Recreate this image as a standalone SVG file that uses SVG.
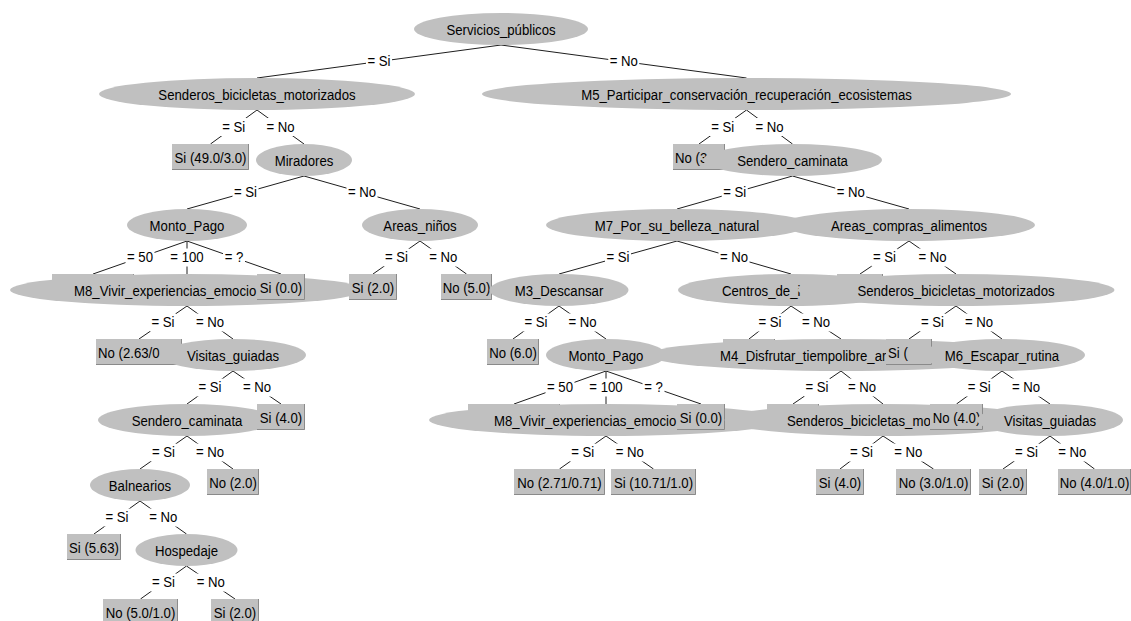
<svg xmlns="http://www.w3.org/2000/svg" width="1131" height="621" viewBox="0 0 1131 621">
<style>
.e{fill:#c0c0c0}
.r{fill:#c0c0c0}
.bd{fill:none;stroke:#8a8a8a;stroke-width:1}
.t{font-family:"Liberation Sans",Arial,sans-serif;font-size:14.5px;fill:#000;text-anchor:middle;transform-box:fill-box;transform-origin:center;transform:scaleX(.91)}
.ts{text-anchor:start;transform-origin:left center}
#links line{stroke:#1e1e1e;stroke-width:1}
#links rect{fill:#fff}
</style>
<rect width="1131" height="621" fill="#fff"/>
<g id="links">
<line x1="501" y1="45" x2="257" y2="78"/><line x1="501" y1="45" x2="746.5" y2="78"/>
<line x1="257" y1="110" x2="210.5" y2="144"/><line x1="257" y1="110" x2="304" y2="144"/>
<line x1="746.5" y1="110" x2="699" y2="144"/><line x1="746.5" y1="110" x2="792.5" y2="144"/>
<line x1="304" y1="176" x2="187" y2="209"/><line x1="304" y1="176" x2="420" y2="209"/>
<line x1="792.5" y1="176" x2="677" y2="209"/><line x1="792.5" y1="176" x2="909" y2="209"/>
<line x1="187" y1="241" x2="93" y2="274"/><line x1="187" y1="241" x2="187" y2="274"/><line x1="187" y1="241" x2="281" y2="274"/>
<line x1="420" y1="241" x2="373" y2="274"/><line x1="420" y1="241" x2="466.5" y2="274"/>
<line x1="677" y1="241" x2="559" y2="274"/><line x1="677" y1="241" x2="791" y2="274"/>
<line x1="909" y1="241" x2="860" y2="274"/><line x1="909" y1="241" x2="956" y2="274"/>
<line x1="187" y1="306" x2="139" y2="339"/><line x1="187" y1="306" x2="233" y2="339"/>
<line x1="559" y1="306" x2="513" y2="339"/><line x1="559" y1="306" x2="606" y2="339"/>
<line x1="791" y1="306" x2="749" y2="339"/><line x1="791" y1="306" x2="841" y2="339"/>
<line x1="956" y1="306" x2="909" y2="339"/><line x1="956" y1="306" x2="1002" y2="339"/>
<line x1="233" y1="371" x2="187" y2="404"/><line x1="233" y1="371" x2="281" y2="404"/>
<line x1="606" y1="371" x2="514" y2="404"/><line x1="606" y1="371" x2="606" y2="404"/><line x1="606" y1="371" x2="701" y2="404"/>
<line x1="841" y1="371" x2="793" y2="404"/><line x1="841" y1="371" x2="883" y2="404"/>
<line x1="1002" y1="371" x2="956.5" y2="404"/><line x1="1002" y1="371" x2="1050" y2="404"/>
<line x1="187" y1="436" x2="140" y2="469"/><line x1="187" y1="436" x2="233" y2="469"/>
<line x1="606" y1="436" x2="559.5" y2="469"/><line x1="606" y1="436" x2="653.5" y2="469"/>
<line x1="883" y1="436" x2="840" y2="469"/><line x1="883" y1="436" x2="933.5" y2="469"/>
<line x1="1050" y1="436" x2="1003" y2="469"/><line x1="1050" y1="436" x2="1094.5" y2="469"/>
<line x1="140" y1="501" x2="94" y2="534"/><line x1="140" y1="501" x2="186.5" y2="534"/>
<line x1="186.5" y1="566" x2="140.5" y2="599"/><line x1="186.5" y1="566" x2="235" y2="599"/>
<rect x="366" y="52.5" width="26" height="18"/><text class="t" x="379" y="66.5">= Si</text>
<rect x="608.25" y="52.5" width="31" height="18"/><text class="t" x="623.75" y="66.5">= No</text>
<rect x="220.75" y="118" width="26" height="18"/><text class="t" x="233.75" y="132">= Si</text>
<rect x="265" y="118" width="31" height="18"/><text class="t" x="280.5" y="132">= No</text>
<rect x="709.75" y="118" width="26" height="18"/><text class="t" x="722.75" y="132">= Si</text>
<rect x="754" y="118" width="31" height="18"/><text class="t" x="769.5" y="132">= No</text>
<rect x="232.5" y="183.5" width="26" height="18"/><text class="t" x="245.5" y="197.5">= Si</text>
<rect x="346.5" y="183.5" width="31" height="18"/><text class="t" x="362" y="197.5">= No</text>
<rect x="721.75" y="183.5" width="26" height="18"/><text class="t" x="734.75" y="197.5">= Si</text>
<rect x="835.25" y="183.5" width="31" height="18"/><text class="t" x="850.75" y="197.5">= No</text>
<rect x="125.5" y="248.5" width="29" height="18"/><text class="t" x="140" y="262.5">= 50</text>
<rect x="169" y="248.5" width="36" height="18"/><text class="t" x="187" y="262.5">= 100</text>
<rect x="223" y="248.5" width="22" height="18"/><text class="t" x="234" y="262.5">= ?</text>
<rect x="383.5" y="248.5" width="26" height="18"/><text class="t" x="396.5" y="262.5">= Si</text>
<rect x="427.75" y="248.5" width="31" height="18"/><text class="t" x="443.25" y="262.5">= No</text>
<rect x="605" y="248.5" width="26" height="18"/><text class="t" x="618" y="262.5">= Si</text>
<rect x="718.5" y="248.5" width="31" height="18"/><text class="t" x="734" y="262.5">= No</text>
<rect x="871.5" y="248.5" width="26" height="18"/><text class="t" x="884.5" y="262.5">= Si</text>
<rect x="917" y="248.5" width="31" height="18"/><text class="t" x="932.5" y="262.5">= No</text>
<rect x="150" y="313.5" width="26" height="18"/><text class="t" x="163" y="327.5">= Si</text>
<rect x="194.5" y="313.5" width="31" height="18"/><text class="t" x="210" y="327.5">= No</text>
<rect x="523" y="313.5" width="26" height="18"/><text class="t" x="536" y="327.5">= Si</text>
<rect x="567" y="313.5" width="31" height="18"/><text class="t" x="582.5" y="327.5">= No</text>
<rect x="757" y="313.5" width="26" height="18"/><text class="t" x="770" y="327.5">= Si</text>
<rect x="800.5" y="313.5" width="31" height="18"/><text class="t" x="816" y="327.5">= No</text>
<rect x="919.5" y="313.5" width="26" height="18"/><text class="t" x="932.5" y="327.5">= Si</text>
<rect x="963.5" y="313.5" width="31" height="18"/><text class="t" x="979" y="327.5">= No</text>
<rect x="197" y="378.5" width="26" height="18"/><text class="t" x="210" y="392.5">= Si</text>
<rect x="241.5" y="378.5" width="31" height="18"/><text class="t" x="257" y="392.5">= No</text>
<rect x="545.5" y="378.5" width="29" height="18"/><text class="t" x="560" y="392.5">= 50</text>
<rect x="588" y="378.5" width="36" height="18"/><text class="t" x="606" y="392.5">= 100</text>
<rect x="642.5" y="378.5" width="22" height="18"/><text class="t" x="653.5" y="392.5">= ?</text>
<rect x="804" y="378.5" width="26" height="18"/><text class="t" x="817" y="392.5">= Si</text>
<rect x="846.5" y="378.5" width="31" height="18"/><text class="t" x="862" y="392.5">= No</text>
<rect x="966.25" y="378.5" width="26" height="18"/><text class="t" x="979.25" y="392.5">= Si</text>
<rect x="1010.5" y="378.5" width="31" height="18"/><text class="t" x="1026" y="392.5">= No</text>
<rect x="150.5" y="443.5" width="26" height="18"/><text class="t" x="163.5" y="457.5">= Si</text>
<rect x="194.5" y="443.5" width="31" height="18"/><text class="t" x="210" y="457.5">= No</text>
<rect x="569.75" y="443.5" width="26" height="18"/><text class="t" x="582.75" y="457.5">= Si</text>
<rect x="614.25" y="443.5" width="31" height="18"/><text class="t" x="629.75" y="457.5">= No</text>
<rect x="848.5" y="443.5" width="26" height="18"/><text class="t" x="861.5" y="457.5">= Si</text>
<rect x="892.75" y="443.5" width="31" height="18"/><text class="t" x="908.25" y="457.5">= No</text>
<rect x="1013.5" y="443.5" width="26" height="18"/><text class="t" x="1026.5" y="457.5">= Si</text>
<rect x="1056.75" y="443.5" width="31" height="18"/><text class="t" x="1072.25" y="457.5">= No</text>
<rect x="104" y="508.5" width="26" height="18"/><text class="t" x="117" y="522.5">= Si</text>
<rect x="147.75" y="508.5" width="31" height="18"/><text class="t" x="163.25" y="522.5">= No</text>
<rect x="150.5" y="573.5" width="26" height="18"/><text class="t" x="163.5" y="587.5">= Si</text>
<rect x="195.25" y="573.5" width="31" height="18"/><text class="t" x="210.75" y="587.5">= No</text>
</g>
<g id="n0"><ellipse class="e" cx="501" cy="29" rx="87" ry="16"/><text class="t" x="501" y="35">Servicios_públicos</text></g>
<g id="n1"><ellipse class="e" cx="257" cy="94" rx="158" ry="16"/><text class="t" x="257" y="100">Senderos_bicicletas_motorizados</text></g>
<g id="n2"><ellipse class="e" cx="746.5" cy="94" rx="264.5" ry="16"/><text class="t" x="746.5" y="100">M5_Participar_conservación_recuperación_ecosistemas</text></g>
<g id="n3"><rect class="r" x="172" y="144" width="77" height="26"/><path class="bd" d="M172 169.5H248.5V144"/><text class="t" x="210.5" y="163.5">Si (49.0/3.0)</text></g>
<g id="n4"><ellipse class="e" cx="304" cy="160" rx="48" ry="16"/><text class="t" x="304" y="166">Miradores</text></g>
<g id="n5"><rect class="r" x="673" y="144" width="52" height="26"/><path class="bd" d="M673 169.5H724.5V144"/><text class="t ts" x="675" y="163.5">No (3</text></g>
<g id="n6"><ellipse class="e" cx="792.5" cy="160" rx="89.5" ry="16"/><text class="t" x="792.5" y="166">Sendero_caminata</text></g>
<g id="n7"><ellipse class="e" cx="187" cy="225" rx="60" ry="16"/><text class="t" x="187" y="231">Monto_Pago</text></g>
<g id="n8"><ellipse class="e" cx="420" cy="225" rx="58" ry="16"/><text class="t" x="420" y="231">Areas_niños</text></g>
<g id="n9"><ellipse class="e" cx="677" cy="225" rx="131" ry="16"/><text class="t" x="677" y="231">M7_Por_su_belleza_natural</text></g>
<g id="n10"><ellipse class="e" cx="909" cy="225" rx="126" ry="16"/><text class="t" x="909" y="231">Areas_compras_alimentos</text></g>
<g id="n11"><rect class="r" x="52" y="274" width="82" height="26"/><path class="bd" d="M52 299.5H133.5V274"/></g>
<g id="n12"><ellipse class="e" cx="187" cy="290" rx="177" ry="16"/><text class="t ts" x="74" y="296">M8_Vivir_experiencias_emocio</text></g>
<g id="n13"><rect class="r" x="257" y="274" width="48" height="26"/><path class="bd" d="M257 299.5H304.5V274"/><text class="t" x="281" y="293.5">Si (0.0)</text></g>
<g id="n14"><rect class="r" x="349" y="274" width="48" height="26"/><path class="bd" d="M349 299.5H396.5V274"/><text class="t" x="373" y="293.5">Si (2.0)</text></g>
<g id="n15"><rect class="r" x="441" y="274" width="51" height="26"/><path class="bd" d="M441 299.5H491.5V274"/><text class="t" x="466.5" y="293.5">No (5.0)</text></g>
<g id="n16"><ellipse class="e" cx="559" cy="290" rx="69.5" ry="16"/><text class="t" x="559" y="296">M3_Descansar</text></g>
<g id="n17"><ellipse class="e" cx="791" cy="290" rx="113" ry="16"/><text class="t ts" x="722" y="296">Centros_de_i</text></g>
<g id="n18"><rect class="r" x="837" y="274" width="46" height="26"/><path class="bd" d="M837 299.5H882.5V274"/></g>
<g id="n19"><ellipse class="e" cx="956" cy="290" rx="158.5" ry="16"/><text class="t" x="956" y="296">Senderos_bicicletas_motorizados</text></g>
<g id="n20"><rect class="r" x="96" y="339" width="86" height="26"/><path class="bd" d="M96 364.5H181.5V339"/><text class="t ts" x="98" y="358.5">No (2.63/0</text></g>
<g id="n21"><ellipse class="e" cx="233" cy="355" rx="73" ry="16"/><text class="t" x="233" y="361">Visitas_guiadas</text></g>
<g id="n22"><rect class="r" x="487" y="339" width="52" height="26"/><path class="bd" d="M487 364.5H538.5V339"/><text class="t" x="513" y="358.5">No (6.0)</text></g>
<g id="n23"><ellipse class="e" cx="606" cy="355" rx="60" ry="16"/><text class="t" x="606" y="361">Monto_Pago</text></g>
<g id="n24"><rect class="r" x="723" y="339" width="52" height="26"/><path class="bd" d="M723 364.5H774.5V339"/></g>
<g id="n25"><ellipse class="e" cx="841" cy="355" rx="194" ry="16"/><text class="t ts" x="720" y="361">M4_Disfrutar_tiempolibre_ar</text></g>
<g id="n26"><rect class="r" x="886" y="339" width="46" height="26"/><path class="bd" d="M886 364.5H931.5V339"/><text class="t ts" x="888" y="358.5">Si (</text></g>
<g id="n27"><ellipse class="e" cx="1002" cy="355" rx="83" ry="16"/><text class="t" x="1002" y="361">M6_Escapar_rutina</text></g>
<g id="n28"><ellipse class="e" cx="187" cy="420" rx="89" ry="16"/><text class="t" x="187" y="426">Sendero_caminata</text></g>
<g id="n29"><rect class="r" x="257" y="404" width="48" height="26"/><path class="bd" d="M257 429.5H304.5V404"/><text class="t" x="281" y="423.5">Si (4.0)</text></g>
<g id="n30"><rect class="r" x="468" y="404" width="92" height="26"/><path class="bd" d="M468 429.5H559.5V404"/></g>
<g id="n31"><ellipse class="e" cx="606" cy="420" rx="177" ry="16"/><text class="t ts" x="494" y="426">M8_Vivir_experiencias_emocio</text></g>
<g id="n32"><rect class="r" x="677" y="404" width="48" height="26"/><path class="bd" d="M677 429.5H724.5V404"/><text class="t" x="701" y="423.5">Si (0.0)</text></g>
<g id="n33"><rect class="r" x="767" y="404" width="52" height="26"/><path class="bd" d="M767 429.5H818.5V404"/></g>
<g id="n34"><ellipse class="e" cx="883" cy="420" rx="158.5" ry="16"/><text class="t ts" x="787" y="426">Senderos_bicicletas_mo</text></g>
<g id="n35"><rect class="r" x="930" y="404" width="53" height="26"/><path class="bd" d="M930 429.5H982.5V404"/><text class="t" x="956.5" y="423.5">No (4.0)</text></g>
<g id="n36"><ellipse class="e" cx="1050" cy="420" rx="73" ry="16"/><text class="t" x="1050" y="426">Visitas_guiadas</text></g>
<g id="n37"><ellipse class="e" cx="140" cy="485" rx="50" ry="16"/><text class="t" x="140" y="491">Balnearios</text></g>
<g id="n38"><rect class="r" x="207" y="469" width="52" height="26"/><path class="bd" d="M207 494.5H258.5V469"/><text class="t" x="233" y="488.5">No (2.0)</text></g>
<g id="n39"><rect class="r" x="514" y="469" width="91" height="26"/><path class="bd" d="M514 494.5H604.5V469"/><text class="t" x="559.5" y="488.5">No (2.71/0.71)</text></g>
<g id="n40"><rect class="r" x="611" y="469" width="85" height="26"/><path class="bd" d="M611 494.5H695.5V469"/><text class="t" x="653.5" y="488.5">Si (10.71/1.0)</text></g>
<g id="n41"><rect class="r" x="816" y="469" width="48" height="26"/><path class="bd" d="M816 494.5H863.5V469"/><text class="t" x="840" y="488.5">Si (4.0)</text></g>
<g id="n42"><rect class="r" x="896" y="469" width="75" height="26"/><path class="bd" d="M896 494.5H970.5V469"/><text class="t" x="933.5" y="488.5">No (3.0/1.0)</text></g>
<g id="n43"><rect class="r" x="979" y="469" width="48" height="26"/><path class="bd" d="M979 494.5H1026.5V469"/><text class="t" x="1003" y="488.5">Si (2.0)</text></g>
<g id="n44"><rect class="r" x="1058" y="469" width="73" height="26"/><path class="bd" d="M1058 494.5H1130.5V469"/><text class="t" x="1094.5" y="488.5">No (4.0/1.0)</text></g>
<g id="n45"><rect class="r" x="67" y="534" width="54" height="26"/><path class="bd" d="M67 559.5H120.5V534"/><text class="t" x="94" y="553.5">Si (5.63)</text></g>
<g id="n46"><ellipse class="e" cx="186.5" cy="550" rx="51" ry="16"/><text class="t" x="186.5" y="556">Hospedaje</text></g>
<g id="n47"><rect class="r" x="103" y="599" width="75" height="26"/><path class="bd" d="M103 624.5H177.5V599"/><text class="t" x="140.5" y="618.5">No (5.0/1.0)</text></g>
<g id="n48"><rect class="r" x="211" y="599" width="48" height="26"/><path class="bd" d="M211 624.5H258.5V599"/><text class="t" x="235" y="618.5">Si (2.0)</text></g>
</svg>
